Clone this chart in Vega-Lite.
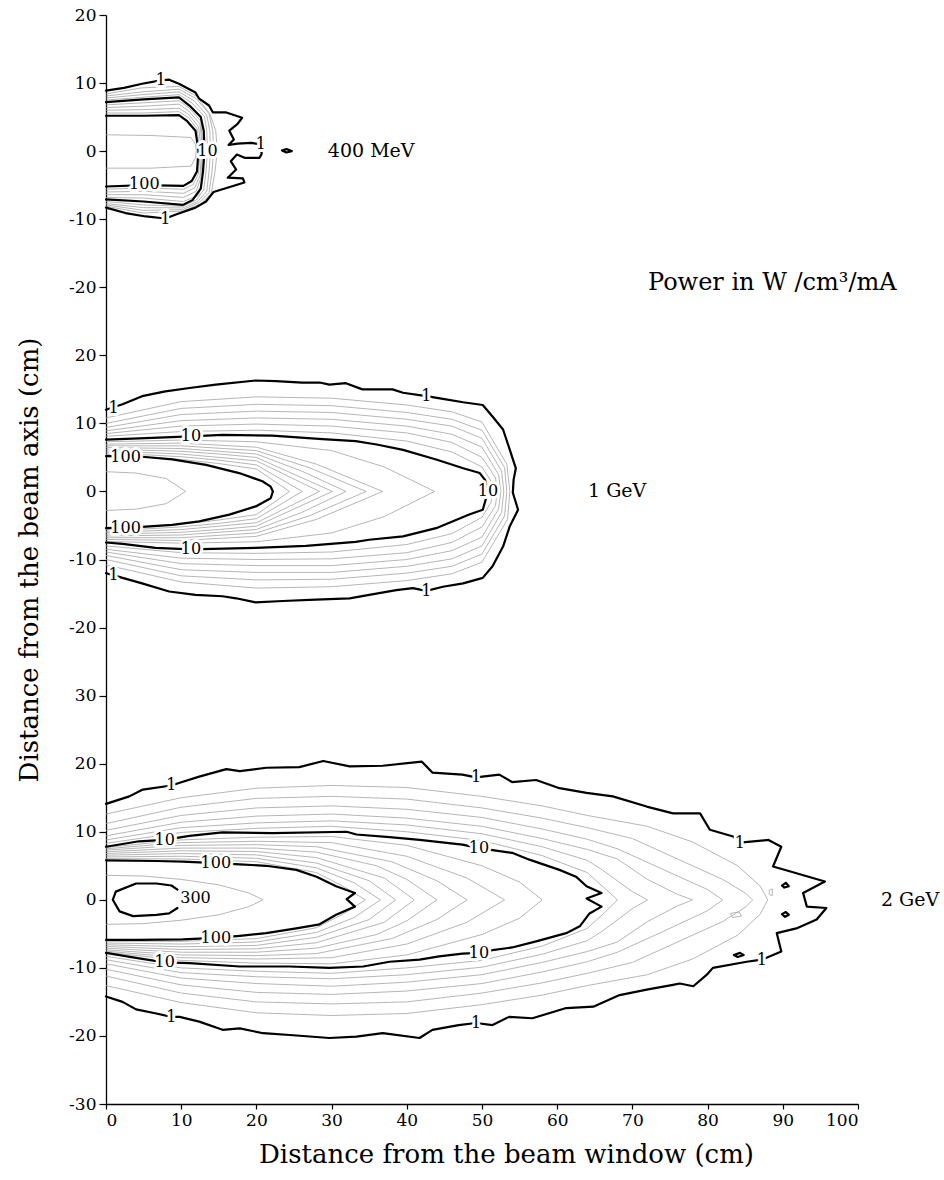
{
"$schema":"https://vega.github.io/schema/vega-lite/v6.json",
"width":752,"height":1089,
"autosize":{"type":"none"},
"padding":{"left":106,"top":15,"right":86,"bottom":76},
"background":"white",
"config":{"view":{"stroke":null},"font":"DejaVu Serif","axis":{"labelFont":"DejaVu Serif","titleFont":"DejaVu Serif","labelColor":"black","titleColor":"black","tickColor":"black","domainColor":"black","titleFontWeight":"normal","grid":false}},
"datasets":{
"a":[
{"c":"M1","x":0,"y":8.9},{"c":"M1","x":2.4,"y":9.3},{"c":"M1","x":4.8,"y":9.9},{"c":"M1","x":7.3,"y":10.4},{"c":"M1","x":8.4,"y":10.5},{"c":"M1","x":9.7,"y":9.9},{"c":"M1","x":11.9,"y":8.6},{"c":"M1","x":12.4,"y":7.7},{"c":"M1","x":13.7,"y":6.7},{"c":"M1","x":14.2,"y":5.7},{"c":"M1","x":15.9,"y":5.7},{"c":"M1","x":18.1,"y":4.9},{"c":"M1","x":17.5,"y":4.0},{"c":"M1","x":16.4,"y":3.0},{"c":"M1","x":17.0,"y":1.7},{"c":"M1","x":16.3,"y":0.9},{"c":"M1","x":17.5,"y":1.1},{"c":"M1","x":19.3,"y":1.2},{"c":"M1","x":20.6,"y":1.0},{"c":"M1","x":20.7,"y":-0.4},{"c":"M1","x":20.4,"y":-1.0},{"c":"M1","x":18.5,"y":-1.0},{"c":"M1","x":17.4,"y":-0.5},{"c":"M1","x":16.6,"y":-1.5},{"c":"M1","x":17.3,"y":-2.7},{"c":"M1","x":16.4,"y":-3.7},{"c":"M1","x":16.2,"y":-3.9},{"c":"M1","x":18.2,"y":-4.0},{"c":"M1","x":18.4,"y":-4.6},{"c":"M1","x":14.3,"y":-6.0},{"c":"M1","x":13.3,"y":-7.4},{"c":"M1","x":11.9,"y":-8.3},{"c":"M1","x":9.3,"y":-9.3},{"c":"M1","x":7.9,"y":-9.9},{"c":"M1","x":5.3,"y":-9.6},{"c":"M1","x":2.6,"y":-9.1},{"c":"M1","x":0,"y":-8.3},
{"c":"M10","x":0,"y":7.2},{"c":"M10","x":5,"y":7.6},{"c":"M10","x":9.7,"y":7.9},{"c":"M10","x":11.1,"y":6.7},{"c":"M10","x":12.6,"y":5.0},{"c":"M10","x":13.0,"y":3.0},{"c":"M10","x":13.1,"y":0},{"c":"M10","x":12.9,"y":-3.0},{"c":"M10","x":12.6,"y":-5.5},{"c":"M10","x":11.5,"y":-7.2},{"c":"M10","x":10.2,"y":-7.9},{"c":"M10","x":5,"y":-7.4},{"c":"M10","x":0,"y":-7.1},
{"c":"M100","x":0,"y":5.2},{"c":"M100","x":5,"y":5.2},{"c":"M100","x":9.7,"y":5.3},{"c":"M100","x":10.8,"y":4.4},{"c":"M100","x":11.9,"y":3.0},{"c":"M100","x":12.3,"y":0},{"c":"M100","x":12.1,"y":-3.0},{"c":"M100","x":11.4,"y":-4.4},{"c":"M100","x":10.3,"y":-5.1},{"c":"M100","x":5.1,"y":-5.0},{"c":"M100","x":0,"y":-5.2},
{"c":"MB1","x":23.4,"y":0.1},{"c":"MB1","x":24.0,"y":0.3},{"c":"MB1","x":24.7,"y":0.0},{"c":"MB1","x":24.0,"y":-0.2},{"c":"MB1","x":23.4,"y":0.1},
{"c":"g1","x":0,"y":5.6},{"c":"g1","x":5,"y":5.6},{"c":"g1","x":9.7,"y":5.8},{"c":"g1","x":11.0,"y":4.9},{"c":"g1","x":12.1,"y":3.3},{"c":"g1","x":12.5,"y":0},{"c":"g1","x":12.3,"y":-3.3},{"c":"g1","x":11.6,"y":-4.9},{"c":"g1","x":10.3,"y":-5.6},{"c":"g1","x":5,"y":-5.4},{"c":"g1","x":0,"y":-5.6},
{"c":"g2","x":0,"y":6.0},{"c":"g2","x":5,"y":6.1},{"c":"g2","x":9.7,"y":6.3},{"c":"g2","x":11.0,"y":5.4},{"c":"g2","x":12.3,"y":3.6},{"c":"g2","x":12.7,"y":0},{"c":"g2","x":12.5,"y":-3.6},{"c":"g2","x":11.8,"y":-5.4},{"c":"g2","x":10.3,"y":-6.2},{"c":"g2","x":5,"y":-5.9},{"c":"g2","x":0,"y":-6.0},
{"c":"g3","x":0,"y":6.4},{"c":"g3","x":5,"y":6.6},{"c":"g3","x":9.7,"y":6.9},{"c":"g3","x":11.0,"y":5.9},{"c":"g3","x":12.5,"y":4.0},{"c":"g3","x":12.85,"y":0},{"c":"g3","x":12.6,"y":-4.0},{"c":"g3","x":12.0,"y":-5.9},{"c":"g3","x":10.3,"y":-6.8},{"c":"g3","x":5,"y":-6.4},{"c":"g3","x":0,"y":-6.4},
{"c":"g4","x":0,"y":6.8},{"c":"g4","x":5,"y":7.1},{"c":"g4","x":9.7,"y":7.4},{"c":"g4","x":11.1,"y":6.3},{"c":"g4","x":12.6,"y":4.4},{"c":"g4","x":12.95,"y":0},{"c":"g4","x":12.8,"y":-4.5},{"c":"g4","x":12.3,"y":-6.5},{"c":"g4","x":10.3,"y":-7.4},{"c":"g4","x":5,"y":-6.9},{"c":"g4","x":0,"y":-6.8},
{"c":"h1","x":0,"y":7.5},{"c":"h1","x":4.8,"y":7.9},{"c":"h1","x":9.7,"y":8.3},{"c":"h1","x":11.4,"y":7.1},{"c":"h1","x":13.1,"y":5.1},{"c":"h1","x":13.4,"y":3.0},{"c":"h1","x":13.5,"y":0},{"c":"h1","x":13.3,"y":-3.0},{"c":"h1","x":13.0,"y":-5.7},{"c":"h1","x":12.0,"y":-7.2},{"c":"h1","x":10.2,"y":-8.1},{"c":"h1","x":5,"y":-7.9},{"c":"h1","x":0,"y":-7.4},
{"c":"h2","x":0,"y":7.8},{"c":"h2","x":4.8,"y":8.3},{"c":"h2","x":9.7,"y":8.7},{"c":"h2","x":11.7,"y":7.4},{"c":"h2","x":13.4,"y":5.3},{"c":"h2","x":13.8,"y":3.0},{"c":"h2","x":13.9,"y":0},{"c":"h2","x":13.7,"y":-3.0},{"c":"h2","x":13.4,"y":-5.9},{"c":"h2","x":12.2,"y":-7.4},{"c":"h2","x":10.2,"y":-8.35},{"c":"h2","x":5,"y":-8.3},{"c":"h2","x":0,"y":-7.7},
{"c":"h3","x":0,"y":8.1},{"c":"h3","x":4.8,"y":8.7},{"c":"h3","x":9.7,"y":9.1},{"c":"h3","x":12.0,"y":7.7},{"c":"h3","x":13.7,"y":5.5},{"c":"h3","x":14.2,"y":3.0},{"c":"h3","x":14.3,"y":0},{"c":"h3","x":14.1,"y":-3.0},{"c":"h3","x":13.7,"y":-6.1},{"c":"h3","x":12.4,"y":-7.55},{"c":"h3","x":10.2,"y":-8.6},{"c":"h3","x":5,"y":-8.7},{"c":"h3","x":0,"y":-7.9},
{"c":"h4","x":0,"y":8.4},{"c":"h4","x":4.8,"y":9.3},{"c":"h4","x":9.7,"y":9.5},{"c":"h4","x":12.0,"y":8.1},{"c":"h4","x":13.8,"y":5.5},{"c":"h4","x":14.6,"y":3.0},{"c":"h4","x":14.8,"y":0},{"c":"h4","x":14.5,"y":-3.0},{"c":"h4","x":14.0,"y":-6.2},{"c":"h4","x":12.6,"y":-7.75},{"c":"h4","x":10.2,"y":-8.8},{"c":"h4","x":5,"y":-9.1},{"c":"h4","x":0,"y":-8.1},
{"c":"i1","x":0,"y":2.4},{"c":"i1","x":6,"y":2.3},{"c":"i1","x":11.3,"y":2.0},{"c":"i1","x":11.9,"y":1.0},{"c":"i1","x":12.0,"y":0},{"c":"i1","x":11.9,"y":-1.0},{"c":"i1","x":11.3,"y":-2.2},{"c":"i1","x":6,"y":-2.5},{"c":"i1","x":0,"y":-2.5}
],
"b":[
{"c":"M1","x":0,"y":12.0},{"c":"M1","x":2.2,"y":12.8},{"c":"M1","x":4.8,"y":14.0},{"c":"M1","x":7.9,"y":14.7},{"c":"M1","x":11.1,"y":15.2},{"c":"M1","x":14.6,"y":15.7},{"c":"M1","x":19.9,"y":16.3},{"c":"M1","x":22.6,"y":16.2},{"c":"M1","x":26.1,"y":16.0},{"c":"M1","x":28.4,"y":16.0},{"c":"M1","x":29.7,"y":15.7},{"c":"M1","x":31.9,"y":15.9},{"c":"M1","x":34.1,"y":15.0},{"c":"M1","x":38.1,"y":15.0},{"c":"M1","x":39.5,"y":14.5},{"c":"M1","x":42.6,"y":14.0},{"c":"M1","x":44.8,"y":13.6},{"c":"M1","x":47.5,"y":13.1},{"c":"M1","x":50.1,"y":12.7},{"c":"M1","x":51.4,"y":11.0},{"c":"M1","x":52.8,"y":9.1},{"c":"M1","x":53.7,"y":6.1},{"c":"M1","x":54.5,"y":3.4},{"c":"M1","x":54.2,"y":1.7},{"c":"M1","x":54.1,"y":-0.2},{"c":"M1","x":54.8,"y":-2.7},{"c":"M1","x":53.7,"y":-5.1},{"c":"M1","x":52.8,"y":-8.1},{"c":"M1","x":51.4,"y":-11.0},{"c":"M1","x":50.1,"y":-12.7},{"c":"M1","x":47.5,"y":-13.5},{"c":"M1","x":44.8,"y":-14.0},{"c":"M1","x":42.6,"y":-14.6},{"c":"M1","x":40.8,"y":-14.2},{"c":"M1","x":38.6,"y":-14.5},{"c":"M1","x":35.0,"y":-15.2},{"c":"M1","x":32.4,"y":-15.7},{"c":"M1","x":27.9,"y":-15.9},{"c":"M1","x":23.5,"y":-16.1},{"c":"M1","x":19.9,"y":-16.3},{"c":"M1","x":17.3,"y":-15.7},{"c":"M1","x":15.5,"y":-15.4},{"c":"M1","x":11.9,"y":-15.2},{"c":"M1","x":8.4,"y":-14.7},{"c":"M1","x":4.8,"y":-13.5},{"c":"M1","x":2.2,"y":-12.7},{"c":"M1","x":0,"y":-12.0},
{"c":"M10","x":0,"y":7.6},{"c":"M10","x":4.4,"y":7.8},{"c":"M10","x":11.3,"y":8.1},{"c":"M10","x":15.5,"y":8.3},{"c":"M10","x":22.1,"y":8.2},{"c":"M10","x":28.8,"y":7.7},{"c":"M10","x":33.2,"y":7.4},{"c":"M10","x":36,"y":6.9},{"c":"M10","x":39.5,"y":6.1},{"c":"M10","x":43.9,"y":4.7},{"c":"M10","x":47.5,"y":3.4},{"c":"M10","x":49.7,"y":2.7},{"c":"M10","x":50.4,"y":1.7},{"c":"M10","x":50.8,"y":0},{"c":"M10","x":50.1,"y":-2.7},{"c":"M10","x":48.3,"y":-3.4},{"c":"M10","x":43.9,"y":-5.4},{"c":"M10","x":39.5,"y":-6.6},{"c":"M10","x":35.0,"y":-7.1},{"c":"M10","x":33.2,"y":-7.4},{"c":"M10","x":26.6,"y":-8.0},{"c":"M10","x":19.9,"y":-8.3},{"c":"M10","x":11.3,"y":-8.5},{"c":"M10","x":6.6,"y":-8.3},{"c":"M10","x":2.2,"y":-7.7},{"c":"M10","x":0,"y":-7.5},
{"c":"M100","x":0,"y":5.2},{"c":"M100","x":4.8,"y":5.1},{"c":"M100","x":8.8,"y":4.7},{"c":"M100","x":13.3,"y":3.9},{"c":"M100","x":17.7,"y":2.7},{"c":"M100","x":20.8,"y":1.5},{"c":"M100","x":21.9,"y":0.7},{"c":"M100","x":22.2,"y":0},{"c":"M100","x":21.9,"y":-1.0},{"c":"M100","x":19.9,"y":-2.2},{"c":"M100","x":16.4,"y":-3.4},{"c":"M100","x":12.4,"y":-4.4},{"c":"M100","x":8.8,"y":-4.9},{"c":"M100","x":4.8,"y":-5.2},{"c":"M100","x":0,"y":-5.4},
{"c":"i1","x":0,"y":2.9},{"c":"i1","x":4,"y":2.7},{"c":"i1","x":8,"y":1.9},{"c":"i1","x":10.6,"y":0},{"c":"i1","x":8,"y":-1.8},{"c":"i1","x":4,"y":-2.6},{"c":"i1","x":0,"y":-2.8},
{"c":"c1","x":0,"y":5.45},{"c":"c1","x":10,"y":4.7},{"c":"c1","x":15,"y":4.1},{"c":"c1","x":20,"y":3.3},{"c":"c1","x":24.4,"y":0},{"c":"c1","x":20,"y":-3.4},{"c":"c1","x":15,"y":-4.2},{"c":"c1","x":10,"y":-4.8},{"c":"c1","x":0,"y":-5.6},
{"c":"c2","x":0,"y":5.7},{"c":"c2","x":10,"y":5.1},{"c":"c2","x":15,"y":4.6},{"c":"c2","x":20,"y":3.9},{"c":"c2","x":26.1,"y":0},{"c":"c2","x":20,"y":-4.0},{"c":"c2","x":15,"y":-4.7},{"c":"c2","x":10,"y":-5.2},{"c":"c2","x":0,"y":-5.85},
{"c":"c3","x":0,"y":5.95},{"c":"c3","x":10,"y":5.5},{"c":"c3","x":15,"y":5.0},{"c":"c3","x":20,"y":4.5},{"c":"c3","x":28.4,"y":0},{"c":"c3","x":20,"y":-4.6},{"c":"c3","x":15,"y":-5.1},{"c":"c3","x":10,"y":-5.6},{"c":"c3","x":0,"y":-6.05},
{"c":"c4","x":0,"y":6.2},{"c":"c4","x":10,"y":5.9},{"c":"c4","x":15,"y":5.5},{"c":"c4","x":20,"y":5.0},{"c":"c4","x":30.1,"y":0},{"c":"c4","x":20,"y":-5.1},{"c":"c4","x":15,"y":-5.6},{"c":"c4","x":10,"y":-6.0},{"c":"c4","x":0,"y":-6.3},
{"c":"c5","x":0,"y":6.45},{"c":"c5","x":10,"y":6.3},{"c":"c5","x":20,"y":5.5},{"c":"c5","x":26,"y":3.0},{"c":"c5","x":31.9,"y":0},{"c":"c5","x":26,"y":-3.1},{"c":"c5","x":20,"y":-5.6},{"c":"c5","x":10,"y":-6.4},{"c":"c5","x":0,"y":-6.55},
{"c":"c6","x":0,"y":6.7},{"c":"c6","x":10,"y":6.7},{"c":"c6","x":20,"y":6.0},{"c":"c6","x":27,"y":3.5},{"c":"c6","x":34.6,"y":0},{"c":"c6","x":27,"y":-3.6},{"c":"c6","x":20,"y":-6.1},{"c":"c6","x":10,"y":-6.8},{"c":"c6","x":0,"y":-6.8},
{"c":"c7","x":0,"y":6.95},{"c":"c7","x":10,"y":7.1},{"c":"c7","x":20,"y":6.5},{"c":"c7","x":28,"y":4.0},{"c":"c7","x":36.8,"y":0},{"c":"c7","x":28,"y":-4.1},{"c":"c7","x":20,"y":-6.6},{"c":"c7","x":10,"y":-7.2},{"c":"c7","x":0,"y":-7.05},
{"c":"c8","x":0,"y":7.3},{"c":"c8","x":10,"y":7.55},{"c":"c8","x":20,"y":7.3},{"c":"c8","x":30,"y":6.0},{"c":"c8","x":37,"y":3.6},{"c":"c8","x":43.7,"y":0},{"c":"c8","x":37,"y":-3.7},{"c":"c8","x":30,"y":-6.1},{"c":"c8","x":20,"y":-7.4},{"c":"c8","x":10,"y":-7.6},{"c":"c8","x":0,"y":-7.35},
{"c":"r1","x":0,"y":8.1},{"c":"r1","x":10,"y":8.8},{"c":"r1","x":20,"y":9.0},{"c":"r1","x":30,"y":8.6},{"c":"r1","x":40,"y":7.4},{"c":"r1","x":46,"y":5.8},{"c":"r1","x":50,"y":3.6},{"c":"r1","x":51.2,"y":1.5},{"c":"r1","x":51.5,"y":0},{"c":"r1","x":51.2,"y":-1.6},{"c":"r1","x":50,"y":-3.8},{"c":"r1","x":46,"y":-6.2},{"c":"r1","x":40,"y":-7.8},{"c":"r1","x":30,"y":-8.9},{"c":"r1","x":20,"y":-9.1},{"c":"r1","x":10,"y":-9.0},{"c":"r1","x":0,"y":-8.0},
{"c":"r2","x":0,"y":8.5},{"c":"r2","x":10,"y":9.6},{"c":"r2","x":20,"y":9.9},{"c":"r2","x":30,"y":9.6},{"c":"r2","x":40,"y":8.6},{"c":"r2","x":46,"y":7.2},{"c":"r2","x":50,"y":5.0},{"c":"r2","x":51.8,"y":2.0},{"c":"r2","x":52.0,"y":0},{"c":"r2","x":51.8,"y":-2.1},{"c":"r2","x":50,"y":-5.2},{"c":"r2","x":46,"y":-7.5},{"c":"r2","x":40,"y":-9.0},{"c":"r2","x":30,"y":-9.9},{"c":"r2","x":20,"y":-10.0},{"c":"r2","x":10,"y":-9.8},{"c":"r2","x":0,"y":-8.5},
{"c":"r3","x":0,"y":8.9},{"c":"r3","x":10,"y":10.4},{"c":"r3","x":20,"y":10.8},{"c":"r3","x":30,"y":10.6},{"c":"r3","x":40,"y":9.6},{"c":"r3","x":46,"y":8.4},{"c":"r3","x":50,"y":6.5},{"c":"r3","x":52.2,"y":2.5},{"c":"r3","x":52.5,"y":0},{"c":"r3","x":52.2,"y":-2.6},{"c":"r3","x":50,"y":-6.7},{"c":"r3","x":46,"y":-8.7},{"c":"r3","x":40,"y":-10.0},{"c":"r3","x":30,"y":-10.9},{"c":"r3","x":20,"y":-10.9},{"c":"r3","x":10,"y":-10.6},{"c":"r3","x":0,"y":-8.9},
{"c":"r4","x":0,"y":9.4},{"c":"r4","x":10,"y":11.3},{"c":"r4","x":20,"y":11.8},{"c":"r4","x":30,"y":11.6},{"c":"r4","x":40,"y":10.6},{"c":"r4","x":46,"y":9.6},{"c":"r4","x":50,"y":7.8},{"c":"r4","x":52.6,"y":3.0},{"c":"r4","x":52.9,"y":0},{"c":"r4","x":52.6,"y":-3.1},{"c":"r4","x":50,"y":-8.0},{"c":"r4","x":46,"y":-9.9},{"c":"r4","x":40,"y":-11.0},{"c":"r4","x":30,"y":-11.9},{"c":"r4","x":20,"y":-11.9},{"c":"r4","x":10,"y":-11.5},{"c":"r4","x":0,"y":-9.4},
{"c":"r5","x":0,"y":10.0},{"c":"r5","x":10,"y":12.2},{"c":"r5","x":20,"y":12.8},{"c":"r5","x":30,"y":12.6},{"c":"r5","x":40,"y":11.6},{"c":"r5","x":46,"y":10.6},{"c":"r5","x":50,"y":9.0},{"c":"r5","x":53.0,"y":3.5},{"c":"r5","x":53.3,"y":0},{"c":"r5","x":53.0,"y":-3.6},{"c":"r5","x":50,"y":-9.2},{"c":"r5","x":46,"y":-11.0},{"c":"r5","x":40,"y":-12.0},{"c":"r5","x":30,"y":-12.9},{"c":"r5","x":20,"y":-13.0},{"c":"r5","x":10,"y":-12.4},{"c":"r5","x":0,"y":-10.0},
{"c":"r6","x":0,"y":10.8},{"c":"r6","x":10,"y":13.2},{"c":"r6","x":20,"y":13.9},{"c":"r6","x":30,"y":13.7},{"c":"r6","x":40,"y":12.7},{"c":"r6","x":46,"y":11.7},{"c":"r6","x":50,"y":10.2},{"c":"r6","x":53.3,"y":4.0},{"c":"r6","x":53.7,"y":0},{"c":"r6","x":53.4,"y":-4.1},{"c":"r6","x":50,"y":-10.4},{"c":"r6","x":46,"y":-12.1},{"c":"r6","x":40,"y":-13.1},{"c":"r6","x":30,"y":-14.0},{"c":"r6","x":20,"y":-14.2},{"c":"r6","x":10,"y":-13.3},{"c":"r6","x":0,"y":-10.8}
],
"c":[
{"c":"M1","x":0,"y":14.1},{"c":"M1","x":3.1,"y":15.2},{"c":"M1","x":4.9,"y":16.2},{"c":"M1","x":8.7,"y":16.8},{"c":"M1","x":9.8,"y":17.2},{"c":"M1","x":12.4,"y":18.1},{"c":"M1","x":16.0,"y":19.2},{"c":"M1","x":17.8,"y":18.9},{"c":"M1","x":21.3,"y":19.4},{"c":"M1","x":25.7,"y":19.5},{"c":"M1","x":28.9,"y":20.4},{"c":"M1","x":32.4,"y":19.6},{"c":"M1","x":36.8,"y":19.7},{"c":"M1","x":42.0,"y":20.3},{"c":"M1","x":43.4,"y":18.7},{"c":"M1","x":47.4,"y":18.4},{"c":"M1","x":49.2,"y":18.0},{"c":"M1","x":52.3,"y":18.4},{"c":"M1","x":54.0,"y":17.3},{"c":"M1","x":57.2,"y":17.6},{"c":"M1","x":60.3,"y":16.4},{"c":"M1","x":63.9,"y":15.7},{"c":"M1","x":67.4,"y":15.2},{"c":"M1","x":71.9,"y":13.7},{"c":"M1","x":75.4,"y":12.7},{"c":"M1","x":79.0,"y":12.7},{"c":"M1","x":80.3,"y":10.3},{"c":"M1","x":83.4,"y":9.3},{"c":"M1","x":84.3,"y":8.4},{"c":"M1","x":88.1,"y":8.8},{"c":"M1","x":89.8,"y":7.8},{"c":"M1","x":88.7,"y":4.9},{"c":"M1","x":90.9,"y":4.2},{"c":"M1","x":95.6,"y":2.7},{"c":"M1","x":92.7,"y":1.0},{"c":"M1","x":93.2,"y":-1.0},{"c":"M1","x":95.8,"y":-1.2},{"c":"M1","x":94.5,"y":-2.9},{"c":"M1","x":91.8,"y":-4.2},{"c":"M1","x":89.2,"y":-4.9},{"c":"M1","x":89.8,"y":-7.6},{"c":"M1","x":87.2,"y":-8.8},{"c":"M1","x":85.2,"y":-9.1},{"c":"M1","x":80.7,"y":-10.0},{"c":"M1","x":79.9,"y":-11.0},{"c":"M1","x":78.1,"y":-12.7},{"c":"M1","x":76.3,"y":-12.3},{"c":"M1","x":75.4,"y":-12.5},{"c":"M1","x":71.9,"y":-13.2},{"c":"M1","x":68.3,"y":-14.0},{"c":"M1","x":64.8,"y":-15.7},{"c":"M1","x":61.2,"y":-15.9},{"c":"M1","x":56.7,"y":-17.4},{"c":"M1","x":53.6,"y":-17.2},{"c":"M1","x":51.4,"y":-18.4},{"c":"M1","x":49.2,"y":-18.1},{"c":"M1","x":46.9,"y":-18.4},{"c":"M1","x":43.4,"y":-19.1},{"c":"M1","x":41.7,"y":-20.3},{"c":"M1","x":36.8,"y":-19.6},{"c":"M1","x":33.3,"y":-20.1},{"c":"M1","x":29.7,"y":-20.3},{"c":"M1","x":24.9,"y":-19.9},{"c":"M1","x":20.9,"y":-19.6},{"c":"M1","x":17.8,"y":-18.9},{"c":"M1","x":15.5,"y":-19.1},{"c":"M1","x":12.4,"y":-17.9},{"c":"M1","x":9.8,"y":-17.2},{"c":"M1","x":8.7,"y":-17.2},{"c":"M1","x":6.7,"y":-16.7},{"c":"M1","x":4.0,"y":-16.1},{"c":"M1","x":2.2,"y":-15.0},{"c":"M1","x":0,"y":-14.2},
{"c":"M10","x":0,"y":7.8},{"c":"M10","x":4.4,"y":8.6},{"c":"M10","x":7.8,"y":8.8},{"c":"M10","x":11.1,"y":9.4},{"c":"M10","x":15.5,"y":9.9},{"c":"M10","x":22.2,"y":9.8},{"c":"M10","x":32.0,"y":10.0},{"c":"M10","x":33.3,"y":9.6},{"c":"M10","x":37.7,"y":9.2},{"c":"M10","x":41.7,"y":8.8},{"c":"M10","x":47.4,"y":8.1},{"c":"M10","x":49.6,"y":7.6},{"c":"M10","x":51.4,"y":7.3},{"c":"M10","x":54.0,"y":6.9},{"c":"M10","x":56.3,"y":5.9},{"c":"M10","x":60.3,"y":4.4},{"c":"M10","x":62.5,"y":3.4},{"c":"M10","x":63.9,"y":2.0},{"c":"M10","x":65.9,"y":1.0},{"c":"M10","x":63.9,"y":0.2},{"c":"M10","x":65.9,"y":-1.0},{"c":"M10","x":64.3,"y":-2.0},{"c":"M10","x":63.0,"y":-3.9},{"c":"M10","x":61.2,"y":-4.9},{"c":"M10","x":57.2,"y":-6.1},{"c":"M10","x":54.0,"y":-7.0},{"c":"M10","x":51.4,"y":-7.4},{"c":"M10","x":49.6,"y":-7.8},{"c":"M10","x":47.4,"y":-7.9},{"c":"M10","x":44.3,"y":-8.3},{"c":"M10","x":41.7,"y":-8.8},{"c":"M10","x":37.7,"y":-9.1},{"c":"M10","x":34.2,"y":-9.8},{"c":"M10","x":29.7,"y":-10.0},{"c":"M10","x":24.4,"y":-9.8},{"c":"M10","x":17.8,"y":-9.8},{"c":"M10","x":11.1,"y":-9.3},{"c":"M10","x":7.8,"y":-9.2},{"c":"M10","x":4.4,"y":-8.6},{"c":"M10","x":0,"y":-7.8},
{"c":"M100","x":0,"y":5.8},{"c":"M100","x":6.7,"y":5.7},{"c":"M100","x":10.2,"y":5.6},{"c":"M100","x":14.6,"y":5.4},{"c":"M100","x":17.8,"y":5.2},{"c":"M100","x":21.3,"y":5.0},{"c":"M100","x":25.3,"y":4.4},{"c":"M100","x":28.0,"y":3.4},{"c":"M100","x":30.6,"y":2.0},{"c":"M100","x":33.1,"y":1.0},{"c":"M100","x":32.0,"y":0.1},{"c":"M100","x":33.1,"y":-1.0},{"c":"M100","x":30.6,"y":-2.2},{"c":"M100","x":28.4,"y":-3.6},{"c":"M100","x":25.3,"y":-4.2},{"c":"M100","x":21.3,"y":-4.9},{"c":"M100","x":17.8,"y":-5.3},{"c":"M100","x":14.6,"y":-5.6},{"c":"M100","x":10.2,"y":-5.8},{"c":"M100","x":4.4,"y":-5.9},{"c":"M100","x":0,"y":-5.9},
{"c":"M300","x":9.5,"y":1.5},{"c":"M300","x":8.7,"y":2.1},{"c":"M300","x":6.7,"y":2.4},{"c":"M300","x":4.0,"y":2.4},{"c":"M300","x":1.3,"y":1.2},{"c":"M300","x":0.9,"y":0},{"c":"M300","x":1.8,"y":-1.7},{"c":"M300","x":3.6,"y":-2.4},{"c":"M300","x":6.7,"y":-2.2},{"c":"M300","x":8.4,"y":-2.0},{"c":"M300","x":9.5,"y":-1.2},
{"c":"MB1","x":89.9,"y":2.1},{"c":"MB1","x":90.4,"y":2.5},{"c":"MB1","x":90.8,"y":2.0},{"c":"MB1","x":90.2,"y":1.8},{"c":"MB1","x":89.9,"y":2.1},
{"c":"MB2","x":89.9,"y":-2.1},{"c":"MB2","x":90.4,"y":-1.8},{"c":"MB2","x":90.8,"y":-2.2},{"c":"MB2","x":90.3,"y":-2.5},{"c":"MB2","x":89.9,"y":-2.1},
{"c":"MB3","x":83.5,"y":-8.1},{"c":"MB3","x":84.3,"y":-7.8},{"c":"MB3","x":84.8,"y":-8.1},{"c":"MB3","x":84.0,"y":-8.4},{"c":"MB3","x":83.5,"y":-8.1},
{"c":"i1","x":0,"y":3.6},{"c":"i1","x":5,"y":3.5},{"c":"i1","x":10,"y":3.0},{"c":"i1","x":15,"y":2.2},{"c":"i1","x":19,"y":1.0},{"c":"i1","x":20.9,"y":0},{"c":"i1","x":19,"y":-1.0},{"c":"i1","x":15,"y":-2.2},{"c":"i1","x":10,"y":-3.0},{"c":"i1","x":5,"y":-3.5},{"c":"i1","x":0,"y":-3.6},
{"c":"k1","x":0,"y":6.05},{"c":"k1","x":10,"y":6.0},{"c":"k1","x":20,"y":5.6},{"c":"k1","x":28,"y":4.0},{"c":"k1","x":31.5,"y":2.0},{"c":"k1","x":34.5,"y":0},{"c":"k1","x":31.5,"y":-2.1},{"c":"k1","x":28,"y":-4.1},{"c":"k1","x":20,"y":-5.7},{"c":"k1","x":10,"y":-6.1},{"c":"k1","x":0,"y":-6.1},
{"c":"k2","x":0,"y":6.3},{"c":"k2","x":10,"y":6.4},{"c":"k2","x":20,"y":6.1},{"c":"k2","x":28,"y":4.7},{"c":"k2","x":33,"y":2.5},{"c":"k2","x":36.5,"y":0},{"c":"k2","x":33,"y":-2.6},{"c":"k2","x":28,"y":-4.8},{"c":"k2","x":20,"y":-6.2},{"c":"k2","x":10,"y":-6.5},{"c":"k2","x":0,"y":-6.35},
{"c":"k3","x":0,"y":6.55},{"c":"k3","x":10,"y":6.8},{"c":"k3","x":20,"y":6.6},{"c":"k3","x":28,"y":5.4},{"c":"k3","x":35,"y":2.8},{"c":"k3","x":38.5,"y":0},{"c":"k3","x":35,"y":-2.9},{"c":"k3","x":28,"y":-5.5},{"c":"k3","x":20,"y":-6.7},{"c":"k3","x":10,"y":-6.9},{"c":"k3","x":0,"y":-6.6},
{"c":"k4","x":0,"y":6.8},{"c":"k4","x":10,"y":7.2},{"c":"k4","x":20,"y":7.1},{"c":"k4","x":28,"y":6.2},{"c":"k4","x":37,"y":3.2},{"c":"k4","x":41,"y":0},{"c":"k4","x":37,"y":-3.3},{"c":"k4","x":28,"y":-6.3},{"c":"k4","x":20,"y":-7.2},{"c":"k4","x":10,"y":-7.3},{"c":"k4","x":0,"y":-6.85},
{"c":"k5","x":0,"y":7.05},{"c":"k5","x":10,"y":7.6},{"c":"k5","x":20,"y":7.6},{"c":"k5","x":28,"y":7.0},{"c":"k5","x":36,"y":5.0},{"c":"k5","x":40,"y":3.0},{"c":"k5","x":44,"y":0},{"c":"k5","x":40,"y":-3.1},{"c":"k5","x":36,"y":-5.1},{"c":"k5","x":28,"y":-7.1},{"c":"k5","x":20,"y":-7.7},{"c":"k5","x":10,"y":-7.7},{"c":"k5","x":0,"y":-7.1},
{"c":"k6","x":0,"y":7.3},{"c":"k6","x":10,"y":8.0},{"c":"k6","x":20,"y":8.1},{"c":"k6","x":28,"y":7.8},{"c":"k6","x":38,"y":5.6},{"c":"k6","x":44,"y":2.8},{"c":"k6","x":48,"y":0},{"c":"k6","x":44,"y":-2.9},{"c":"k6","x":38,"y":-5.7},{"c":"k6","x":28,"y":-7.9},{"c":"k6","x":20,"y":-8.2},{"c":"k6","x":10,"y":-8.1},{"c":"k6","x":0,"y":-7.35},
{"c":"k7","x":0,"y":7.5},{"c":"k7","x":10,"y":8.4},{"c":"k7","x":20,"y":8.6},{"c":"k7","x":30,"y":8.4},{"c":"k7","x":40,"y":6.4},{"c":"k7","x":48,"y":3.2},{"c":"k7","x":53,"y":0},{"c":"k7","x":48,"y":-3.3},{"c":"k7","x":40,"y":-6.5},{"c":"k7","x":30,"y":-8.5},{"c":"k7","x":20,"y":-8.7},{"c":"k7","x":10,"y":-8.5},{"c":"k7","x":0,"y":-7.55},
{"c":"k8","x":0,"y":7.7},{"c":"k8","x":10,"y":8.8},{"c":"k8","x":20,"y":9.2},{"c":"k8","x":30,"y":9.3},{"c":"k8","x":40,"y":8.0},{"c":"k8","x":50,"y":5.0},{"c":"k8","x":55,"y":2.6},{"c":"k8","x":58,"y":0},{"c":"k8","x":55,"y":-2.7},{"c":"k8","x":50,"y":-5.1},{"c":"k8","x":40,"y":-8.1},{"c":"k8","x":30,"y":-9.4},{"c":"k8","x":20,"y":-9.3},{"c":"k8","x":10,"y":-8.9},{"c":"k8","x":0,"y":-7.7},
{"c":"o1","x":0,"y":8.3},{"c":"o1","x":10,"y":9.9},{"c":"o1","x":20,"y":10.5},{"c":"o1","x":30,"y":10.8},{"c":"o1","x":40,"y":10.0},{"c":"o1","x":50,"y":8.7},{"c":"o1","x":58,"y":6.5},{"c":"o1","x":64,"y":4.0},{"c":"o1","x":66,"y":2.0},{"c":"o1","x":67.5,"y":0.5},{"c":"o1","x":68,"y":0},{"c":"o1","x":67.5,"y":-0.6},{"c":"o1","x":66,"y":-2.2},{"c":"o1","x":64,"y":-4.2},{"c":"o1","x":58,"y":-6.8},{"c":"o1","x":50,"y":-8.9},{"c":"o1","x":40,"y":-10.0},{"c":"o1","x":30,"y":-10.8},{"c":"o1","x":20,"y":-10.5},{"c":"o1","x":10,"y":-10.0},{"c":"o1","x":0,"y":-8.3},
{"c":"o2","x":0,"y":8.8},{"c":"o2","x":10,"y":10.6},{"c":"o2","x":20,"y":11.3},{"c":"o2","x":30,"y":11.6},{"c":"o2","x":40,"y":11.0},{"c":"o2","x":50,"y":9.7},{"c":"o2","x":58,"y":7.8},{"c":"o2","x":64,"y":5.8},{"c":"o2","x":66,"y":4.4},{"c":"o2","x":70,"y":1.2},{"c":"o2","x":72,"y":0},{"c":"o2","x":70,"y":-1.3},{"c":"o2","x":66,"y":-4.6},{"c":"o2","x":64,"y":-6.0},{"c":"o2","x":58,"y":-8.0},{"c":"o2","x":50,"y":-9.9},{"c":"o2","x":40,"y":-11.0},{"c":"o2","x":30,"y":-11.6},{"c":"o2","x":20,"y":-11.3},{"c":"o2","x":10,"y":-10.7},{"c":"o2","x":0,"y":-8.8},
{"c":"o3","x":0,"y":9.4},{"c":"o3","x":10,"y":11.4},{"c":"o3","x":20,"y":12.3},{"c":"o3","x":30,"y":12.6},{"c":"o3","x":40,"y":12.0},{"c":"o3","x":50,"y":10.8},{"c":"o3","x":58,"y":9.0},{"c":"o3","x":64,"y":7.4},{"c":"o3","x":68,"y":6.0},{"c":"o3","x":72,"y":3.0},{"c":"o3","x":76,"y":0.8},{"c":"o3","x":78,"y":0},{"c":"o3","x":76,"y":-0.9},{"c":"o3","x":72,"y":-3.2},{"c":"o3","x":68,"y":-6.2},{"c":"o3","x":64,"y":-7.6},{"c":"o3","x":58,"y":-9.2},{"c":"o3","x":50,"y":-11.0},{"c":"o3","x":40,"y":-12.1},{"c":"o3","x":30,"y":-12.7},{"c":"o3","x":20,"y":-12.3},{"c":"o3","x":10,"y":-11.5},{"c":"o3","x":0,"y":-9.4},
{"c":"o4","x":0,"y":10.2},{"c":"o4","x":10,"y":12.4},{"c":"o4","x":20,"y":13.5},{"c":"o4","x":30,"y":13.8},{"c":"o4","x":40,"y":13.3},{"c":"o4","x":50,"y":12.1},{"c":"o4","x":58,"y":10.4},{"c":"o4","x":64,"y":8.9},{"c":"o4","x":68,"y":7.5},{"c":"o4","x":74,"y":4.5},{"c":"o4","x":80,"y":1.5},{"c":"o4","x":82,"y":0},{"c":"o4","x":80,"y":-1.6},{"c":"o4","x":74,"y":-4.7},{"c":"o4","x":68,"y":-7.7},{"c":"o4","x":64,"y":-9.1},{"c":"o4","x":58,"y":-10.6},{"c":"o4","x":50,"y":-12.3},{"c":"o4","x":40,"y":-13.4},{"c":"o4","x":30,"y":-13.9},{"c":"o4","x":20,"y":-13.6},{"c":"o4","x":10,"y":-12.5},{"c":"o4","x":0,"y":-10.2},
{"c":"o5","x":0,"y":11.2},{"c":"o5","x":10,"y":13.6},{"c":"o5","x":20,"y":14.9},{"c":"o5","x":30,"y":15.2},{"c":"o5","x":40,"y":14.8},{"c":"o5","x":50,"y":13.5},{"c":"o5","x":58,"y":12.0},{"c":"o5","x":64,"y":10.6},{"c":"o5","x":70,"y":9.0},{"c":"o5","x":76,"y":6.0},{"c":"o5","x":82,"y":3.0},{"c":"o5","x":85,"y":1.0},{"c":"o5","x":86,"y":0},{"c":"o5","x":85,"y":-1.1},{"c":"o5","x":82,"y":-3.2},{"c":"o5","x":76,"y":-6.2},{"c":"o5","x":70,"y":-9.2},{"c":"o5","x":64,"y":-10.8},{"c":"o5","x":58,"y":-12.2},{"c":"o5","x":50,"y":-13.7},{"c":"o5","x":40,"y":-15.0},{"c":"o5","x":30,"y":-15.3},{"c":"o5","x":20,"y":-15.0},{"c":"o5","x":10,"y":-13.7},{"c":"o5","x":0,"y":-11.2},
{"c":"o6","x":0,"y":12.6},{"c":"o6","x":10,"y":15.0},{"c":"o6","x":20,"y":16.4},{"c":"o6","x":30,"y":16.8},{"c":"o6","x":40,"y":16.5},{"c":"o6","x":50,"y":15.2},{"c":"o6","x":58,"y":13.8},{"c":"o6","x":64,"y":12.4},{"c":"o6","x":72,"y":10.8},{"c":"o6","x":78,"y":8.5},{"c":"o6","x":84,"y":5.0},{"c":"o6","x":87,"y":2.0},{"c":"o6","x":88,"y":0},{"c":"o6","x":87,"y":-2.1},{"c":"o6","x":84,"y":-5.2},{"c":"o6","x":78,"y":-8.7},{"c":"o6","x":72,"y":-11.0},{"c":"o6","x":64,"y":-12.6},{"c":"o6","x":58,"y":-14.0},{"c":"o6","x":50,"y":-15.4},{"c":"o6","x":40,"y":-16.7},{"c":"o6","x":30,"y":-17.0},{"c":"o6","x":20,"y":-16.6},{"c":"o6","x":10,"y":-15.1},{"c":"o6","x":0,"y":-12.6},
{"c":"q1","x":83.0,"y":-2.0},{"c":"q1","x":84.2,"y":-1.8},{"c":"q1","x":84.5,"y":-2.4},{"c":"q1","x":83.3,"y":-2.6},{"c":"q1","x":83.0,"y":-2.0},
{"c":"q2","x":88.2,"y":1.4},{"c":"q2","x":88.6,"y":1.6},{"c":"q2","x":88.6,"y":0.6},{"c":"q2","x":88.2,"y":0.8},{"c":"q2","x":88.2,"y":1.4}
],
"la":[{"t":"1","x":7.3,"y":10.4},{"t":"1","x":7.9,"y":-9.9},{"t":"1","x":20.6,"y":1.0},{"t":"10","x":13.5,"y":0},{"t":"100","x":5.1,"y":-4.9}],
"lb":[{"t":"1","x":1.0,"y":12.3},{"t":"10","x":11.3,"y":8.1},{"t":"100","x":2.6,"y":5.1},{"t":"100","x":2.6,"y":-5.3},{"t":"10","x":11.3,"y":-8.5},{"t":"1","x":1.0,"y":-12.3},{"t":"1","x":42.6,"y":14.0},{"t":"10","x":50.8,"y":0},{"t":"1","x":42.6,"y":-14.6}],
"lc":[{"t":"1","x":8.7,"y":16.8},{"t":"10","x":7.8,"y":8.8},{"t":"100","x":14.6,"y":5.4},{"t":"300","x":11.9,"y":0.3},{"t":"100","x":14.6,"y":-5.6},{"t":"10","x":7.8,"y":-9.2},{"t":"1","x":8.7,"y":-17.2},{"t":"1","x":49.2,"y":18.0},{"t":"10","x":49.6,"y":7.6},{"t":"10","x":49.6,"y":-7.8},{"t":"1","x":49.2,"y":-18.1},{"t":"1","x":84.3,"y":8.4},{"t":"1","x":87.2,"y":-8.8}],
"notes":[{"p":"a","t":"400 MeV","x":29.5,"y":0},{"p":"u","t":"Power in W /cm³/mA","x":88.6,"y":-19.4},{"p":"b","t":"1 GeV","x":64.1,"y":0},{"p":"c","t":"2 GeV","x":110.8,"y":0}]
},
"encoding":{"x":{"field":"x","type":"quantitative","scale":{"domain":[0,100],"nice":false,"zero":false},"axis":{"values":[0,10,20,30,40,50,60,70,80,90,100],"title":"Distance from the beam window (cm)","tickSize":5,"labelPadding":3,"labelFontSize":17,"titleFontSize":26,"titlePadding":13,"titleX":400,"domainWidth":1.3,"tickWidth":1.2}}},
"layer":[
{"encoding":{"y":{"field":"y","type":"quantitative","scale":{"domain":[-140,20],"nice":false,"zero":false},"axis":null}},
 "layer":[
  {"data":{"name":"a"},"transform":[{"filter":{"not":{"field":"c","oneOf":["M1","M10","M100","M300","MB1","MB2","MB3"]}}}],"mark":{"type":"line","color":"#a3a3a3","strokeWidth":0.8,"strokeJoin":"round"},"encoding":{"detail":{"field":"c"},"order":{"value":null}}},
  {"data":{"name":"a"},"transform":[{"filter":{"field":"c","oneOf":["M1","M10","M100","M300","MB1","MB2","MB3"]}}],"mark":{"type":"line","color":"black","strokeWidth":2.2,"strokeJoin":"round","strokeCap":"round"},"encoding":{"detail":{"field":"c"},"order":{"value":null}}},
  {"data":{"name":"la"},"mark":{"type":"text","fontSize":16,"font":"DejaVu Serif","fill":"white","stroke":"white","strokeWidth":6,"strokeJoin":"round"},"encoding":{"text":{"field":"t"}}},
  {"data":{"name":"la"},"mark":{"type":"text","fontSize":16,"font":"DejaVu Serif","color":"black"},"encoding":{"text":{"field":"t"}}},
  {"data":{"name":"notes"},"transform":[{"filter":{"field":"p","equal":"a"}}],"mark":{"type":"text","fontSize":19,"font":"DejaVu Serif","align":"left","color":"black"},"encoding":{"text":{"field":"t"}}},
  {"data":{"name":"notes"},"transform":[{"filter":{"field":"p","equal":"u"}}],"mark":{"type":"text","fontSize":24,"font":"DejaVu Serif","align":"center","color":"black"},"encoding":{"text":{"field":"t"}}}
 ]},
{"encoding":{"y":{"field":"y","type":"quantitative","scale":{"domain":[-90,70],"nice":false,"zero":false},"axis":null}},
 "layer":[
  {"data":{"name":"b"},"transform":[{"filter":{"not":{"field":"c","oneOf":["M1","M10","M100","M300","MB1","MB2","MB3"]}}}],"mark":{"type":"line","color":"#a3a3a3","strokeWidth":0.8,"strokeJoin":"round"},"encoding":{"detail":{"field":"c"},"order":{"value":null}}},
  {"data":{"name":"b"},"transform":[{"filter":{"field":"c","oneOf":["M1","M10","M100","M300","MB1","MB2","MB3"]}}],"mark":{"type":"line","color":"black","strokeWidth":2.2,"strokeJoin":"round","strokeCap":"round"},"encoding":{"detail":{"field":"c"},"order":{"value":null}}},
  {"data":{"name":"lb"},"mark":{"type":"text","fontSize":16,"font":"DejaVu Serif","fill":"white","stroke":"white","strokeWidth":6,"strokeJoin":"round"},"encoding":{"text":{"field":"t"}}},
  {"data":{"name":"lb"},"mark":{"type":"text","fontSize":16,"font":"DejaVu Serif","color":"black"},"encoding":{"text":{"field":"t"}}},
  {"data":{"name":"notes"},"transform":[{"filter":{"field":"p","equal":"b"}}],"mark":{"type":"text","fontSize":19,"font":"DejaVu Serif","align":"left","color":"black"},"encoding":{"text":{"field":"t"}}}
 ]},
{"encoding":{"y":{"field":"y","type":"quantitative","scale":{"domain":[-30,130],"nice":false,"zero":false},"axis":{"values":[-30,-20,-10,0,10,20,30,40,50,60,70,80,90,100,110,120,130],"labelExpr":"'' + (datum.value >= 90 ? datum.value - 110 : (datum.value >= 40 ? datum.value - 60 : datum.value))","title":"Distance from the beam axis (cm)","tickSize":7,"labelPadding":3,"labelFontSize":17,"titleFontSize":26,"titlePadding":26,"domainWidth":1.3,"tickWidth":1.2}}},
 "layer":[
  {"data":{"name":"c"},"transform":[{"filter":{"not":{"field":"c","oneOf":["M1","M10","M100","M300","MB1","MB2","MB3"]}}}],"mark":{"type":"line","color":"#a3a3a3","strokeWidth":0.8,"strokeJoin":"round"},"encoding":{"detail":{"field":"c"},"order":{"value":null}}},
  {"data":{"name":"c"},"transform":[{"filter":{"field":"c","oneOf":["M1","M10","M100","M300","MB1","MB2","MB3"]}}],"mark":{"type":"line","color":"black","strokeWidth":2.2,"strokeJoin":"round","strokeCap":"round"},"encoding":{"detail":{"field":"c"},"order":{"value":null}}},
  {"data":{"name":"lc"},"mark":{"type":"text","fontSize":16,"font":"DejaVu Serif","fill":"white","stroke":"white","strokeWidth":6,"strokeJoin":"round"},"encoding":{"text":{"field":"t"}}},
  {"data":{"name":"lc"},"mark":{"type":"text","fontSize":16,"font":"DejaVu Serif","color":"black"},"encoding":{"text":{"field":"t"}}},
  {"data":{"name":"notes"},"transform":[{"filter":{"field":"p","equal":"c"}}],"mark":{"type":"text","fontSize":19,"font":"DejaVu Serif","align":"right","color":"black"},"encoding":{"text":{"field":"t"}}}
 ]}
],
"resolve":{"scale":{"y":"independent"}}
}
